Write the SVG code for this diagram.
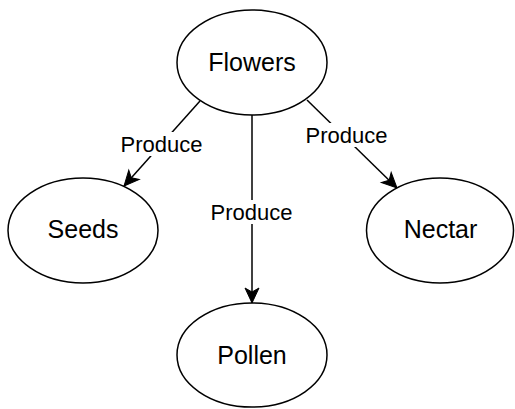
<svg xmlns="http://www.w3.org/2000/svg" width="515" height="409" viewBox="0 0 515 409">
  <defs>
    <marker id="arrow" markerUnits="userSpaceOnUse" markerWidth="16" markerHeight="14" refX="15" refY="7" orient="auto" overflow="visible">
      <path d="M15,7 L0,0 L4,7 L0,14 Z" fill="#000" stroke="#000" stroke-width="1" stroke-linejoin="miter"/>
    </marker>
    <style>
      .node ellipse { fill: #fff; stroke: #000; stroke-width: 1.5; }
      .node text { font-family: "Liberation Sans", Arial, sans-serif; font-size: 25px; fill: #000; text-anchor: middle; }
      .edge line { stroke: #000; stroke-width: 1.5; fill: none; marker-end: url(#arrow); }
      .label rect { fill: #fff; }
      .label text { font-family: "Liberation Sans", Arial, sans-serif; font-size: 22px; fill: #000; text-anchor: middle; }
    </style>
  </defs>
  <rect width="515" height="409" fill="#fff"/>

  <g id="connectors">
    <g class="edge" id="edge-flowers-seeds">
      <line x1="200" y1="101" x2="124" y2="186"/>
    </g>
    <g class="edge" id="edge-flowers-pollen">
      <line x1="252" y1="115" x2="252" y2="303"/>
    </g>
    <g class="edge" id="edge-flowers-nectar">
      <line x1="307" y1="100" x2="397" y2="188"/>
    </g>
    <g class="label">
      <rect x="119" y="132" width="85" height="24"/>
      <text x="161.5" y="151.5">Produce</text>
    </g>
    <g class="label">
      <rect x="209" y="200" width="85" height="24"/>
      <text x="251.5" y="220">Produce</text>
    </g>
    <g class="label">
      <rect x="304" y="123" width="85" height="24"/>
      <text x="346.5" y="143">Produce</text>
    </g>
  </g>

  <g class="node" id="flowers">
    <ellipse cx="252" cy="62.5" rx="75" ry="52.5"/>
    <text x="252" y="70.5">Flowers</text>
  </g>
  <g class="node" id="seeds">
    <ellipse cx="83" cy="230.5" rx="75" ry="52.5"/>
    <text x="83" y="238">Seeds</text>
  </g>
  <g class="node" id="nectar">
    <ellipse cx="440" cy="230.5" rx="73.5" ry="52.5"/>
    <text x="440.5" y="238">Nectar</text>
  </g>
  <g class="node" id="pollen">
    <ellipse cx="252" cy="355" rx="75" ry="52"/>
    <text x="252" y="364">Pollen</text>
  </g>
</svg>
